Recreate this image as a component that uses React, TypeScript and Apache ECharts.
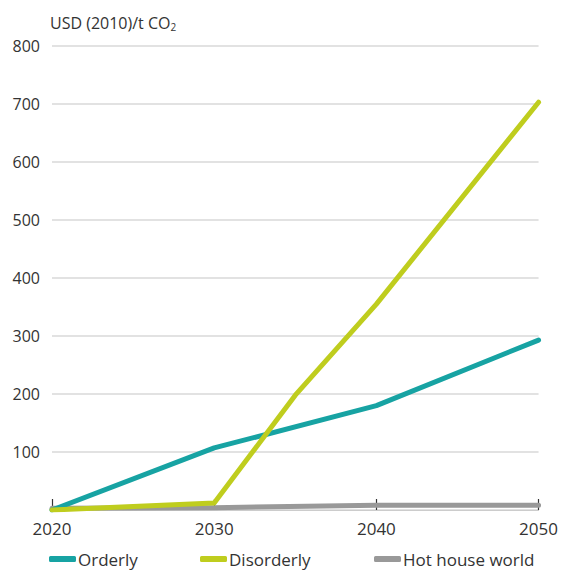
import React, { useEffect, useRef } from "react";
import * as echarts from "echarts";

const orderly: [number, number][] = [[2020, 0], [2030, 107], [2040, 180], [2050, 293]];
const disorderly: [number, number][] = [[2020, 0], [2030, 12], [2035, 198], [2040, 355], [2050, 703]];
const hotHouse: [number, number][] = [[2020, 3], [2030, 4], [2040, 8], [2050, 8]];
const xTicks = [2020, 2030, 2040, 2050];
const yTicks = [0, 100, 200, 300, 400, 500, 600, 700, 800];

const FONT = "'Open Sans', 'Noto Sans', sans-serif";
const TEXT = "#333333";
const C_ORD = "#17a3a3";
const C_DIS = "#bfcd1e";
const C_HOT = "#999999";

export default function App() {
  const ref = useRef<HTMLDivElement>(null);
  useEffect(() => {
    if (!ref.current) return;
    const chart = echarts.init(ref.current, null, { renderer: "svg" });
    const legendBase = {
      orient: "horizontal" as const,
      top: 547,
      padding: 2,
      icon: "roundRect",
      itemWidth: 27,
      itemHeight: 6,
      itemGap: 4,
      textStyle: { fontFamily: FONT, fontSize: 17, lineHeight: 20, color: TEXT, padding: [0, 0, 0, -3] },
    };
    chart.setOption({
      animation: false,
      textStyle: { fontFamily: FONT },
      title: {
        text: "{a|USD (2010)/t CO}{s|2}",
        left: 45,
        top: 8,
        textStyle: {
          fontWeight: "normal",
          rich: {
            a: { fontFamily: FONT, fontSize: 16, fontWeight: "normal", color: TEXT },
            s: { fontFamily: FONT, fontSize: 10, fontWeight: "normal", color: TEXT, padding: [9, 0, 0, 0] },
          },
        },
      },
      legend: [
        { ...legendBase, left: 47, data: [{ name: "Orderly" }] },
        { ...legendBase, left: 198, data: [{ name: "Disorderly" }] },
        { ...legendBase, left: 372, data: [{ name: "Hot house world" }] },
      ],
      grid: { left: 52, right: 10, top: 46, bottom: 64, containLabel: false },
      xAxis: {
        type: "value",
        min: 2020,
        max: 2050,
        interval: 10,
        axisLine: { show: true, lineStyle: { color: "#cccccc", width: 1 } },
        axisTick: { show: true, inside: true, length: 11, lineStyle: { color: "#333", width: 1.2 } },
        splitLine: { show: false },
        axisLabel: {
          color: TEXT,
          fontSize: 17,
          fontFamily: FONT,
          margin: 10,
          formatter: (v: number) => (xTicks.includes(v) ? String(v) : ""),
        },
      },
      yAxis: {
        type: "value",
        min: 0,
        max: 800,
        interval: 100,
        axisLine: { show: false },
        axisTick: { show: false },
        splitLine: { show: true, lineStyle: { color: "#d9d9d9", width: 1.5 } },
        axisLabel: {
          color: TEXT,
          fontSize: 16,
          fontFamily: FONT,
          margin: 12,
          formatter: (v: number) => (v === 0 || !yTicks.includes(v) ? "" : String(v)),
        },
      },
      series: [
        {
          name: "Orderly",
          type: "line",
          data: orderly,
          showSymbol: false,
          symbol: "none",
          lineStyle: { color: C_ORD, width: 5, cap: "round", join: "round" },
          itemStyle: { color: C_ORD },
          z: 3,
        },
        {
          name: "Disorderly",
          type: "line",
          data: disorderly,
          showSymbol: false,
          symbol: "none",
          lineStyle: { color: C_DIS, width: 5, cap: "round", join: "round" },
          itemStyle: { color: C_DIS },
          z: 4,
        },
        {
          name: "Hot house world",
          type: "line",
          data: hotHouse,
          showSymbol: false,
          symbol: "none",
          lineStyle: { color: C_HOT, width: 5, cap: "round", join: "round" },
          itemStyle: { color: C_HOT },
          z: 2,
        },
      ],
    });
    return () => chart.dispose();
  }, []);
  return <div ref={ref} style={{ width: 561, height: 574, position: "absolute", left: 0, top: 0 }} />;
}
